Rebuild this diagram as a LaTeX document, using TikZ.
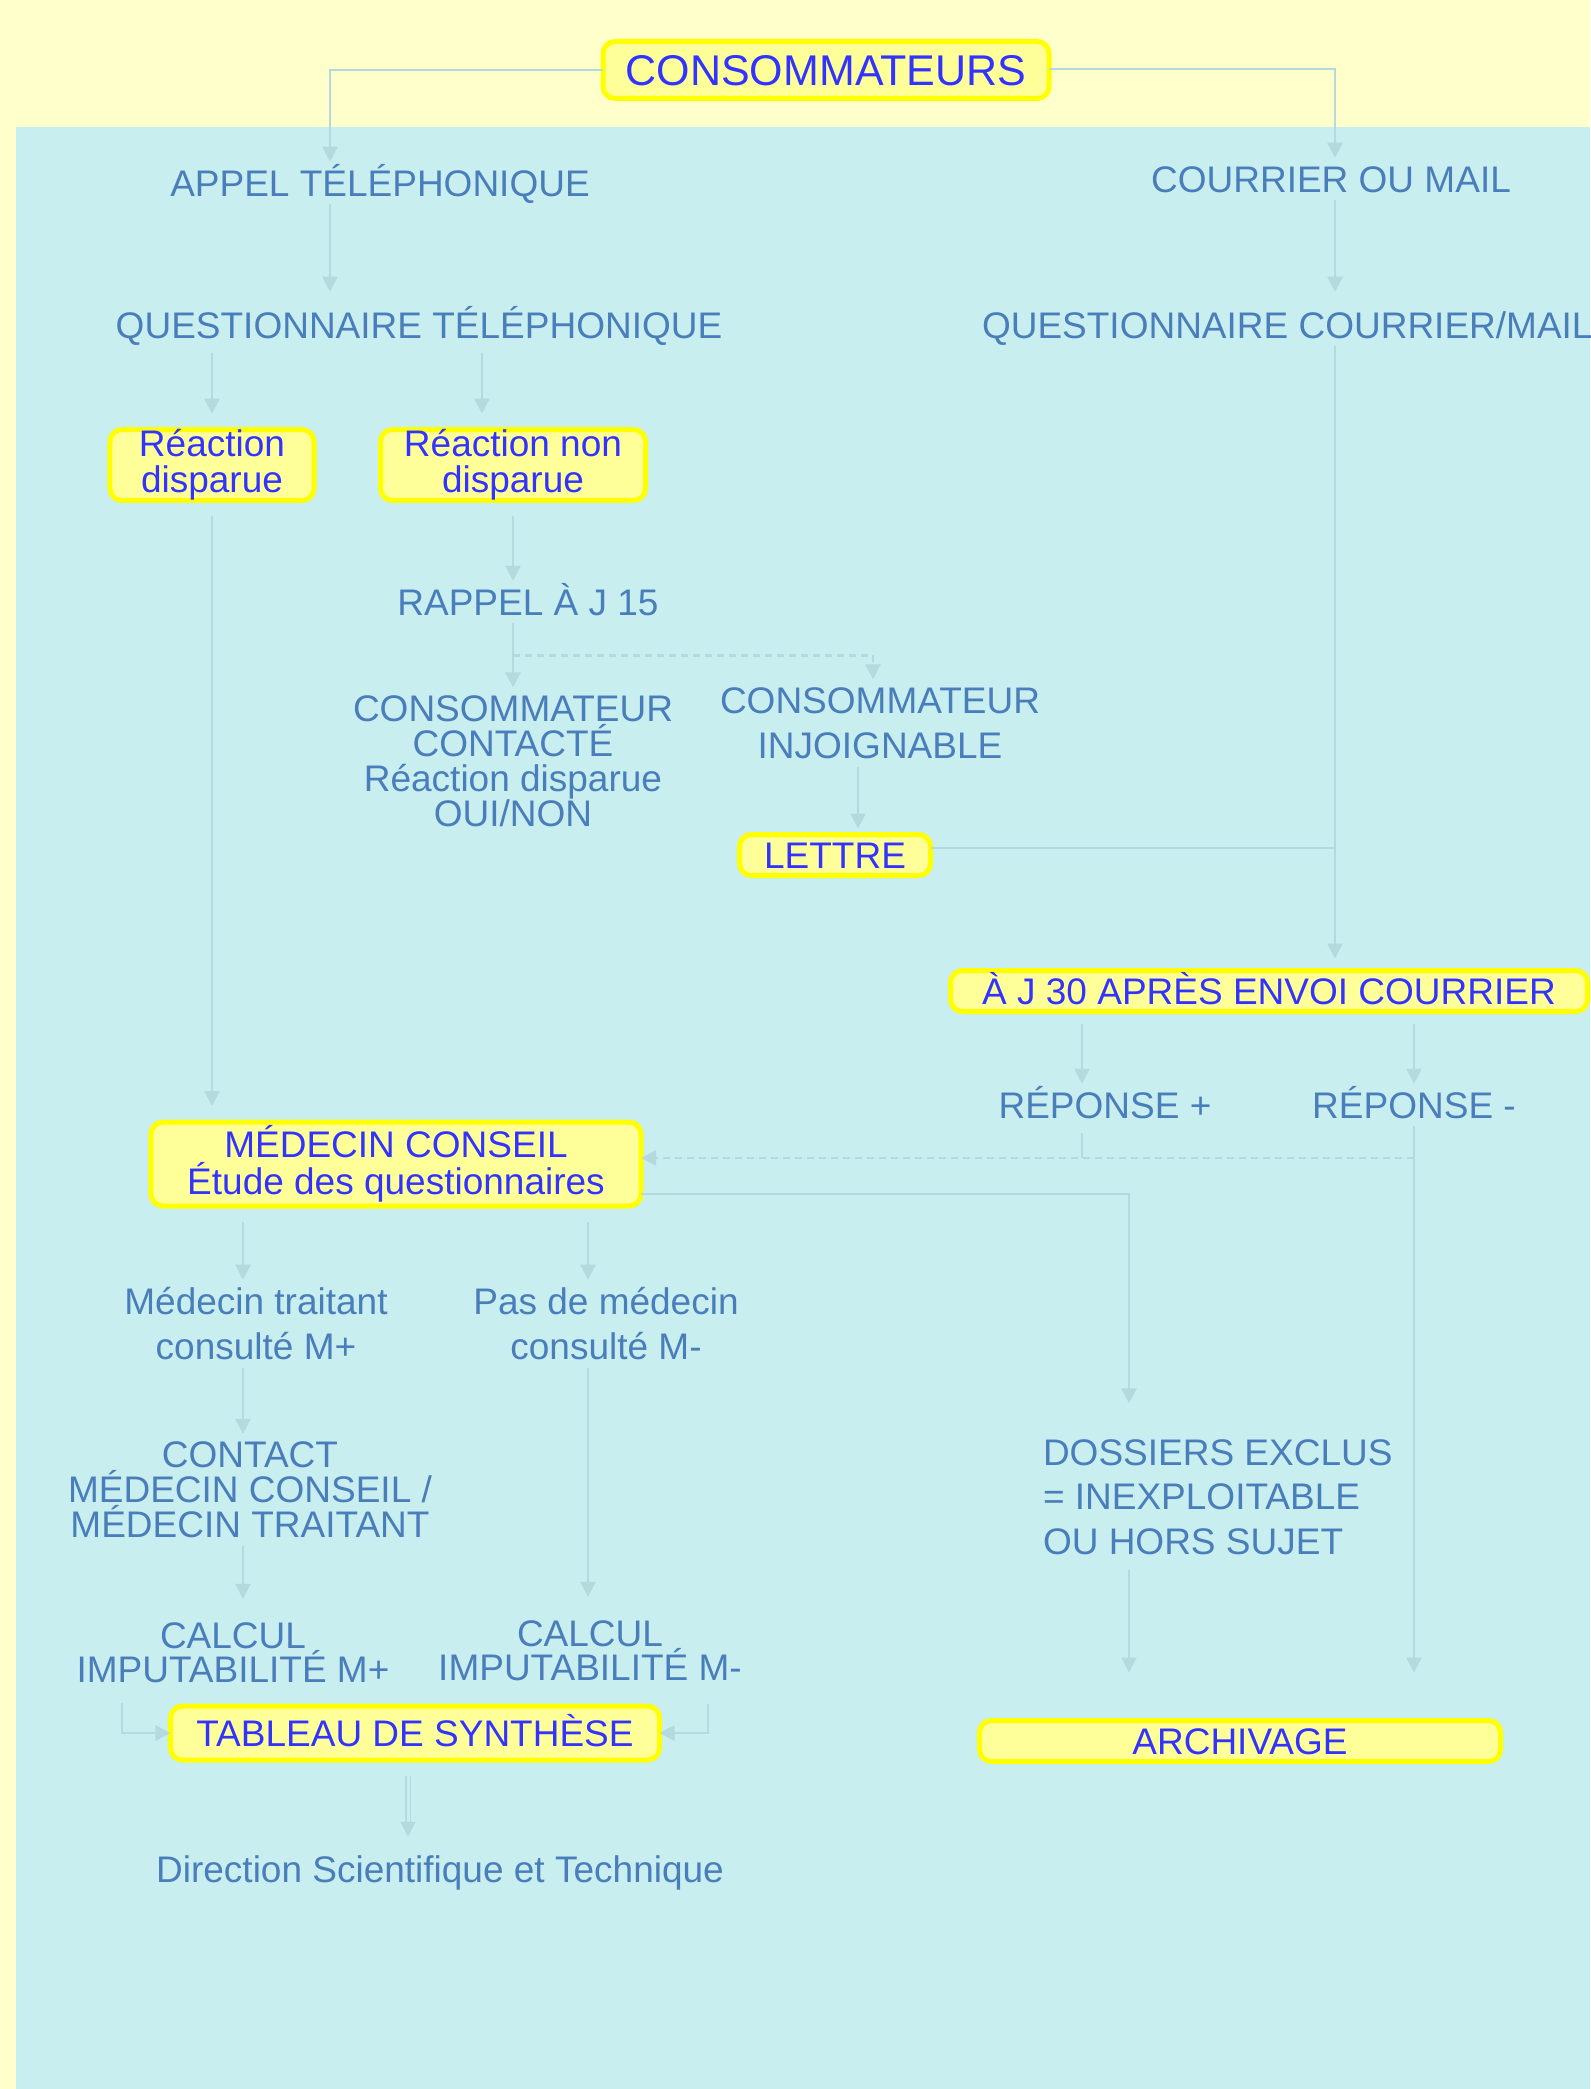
\documentclass[tikz,border=0pt]{standalone}
\usepackage{fontspec}
\setmainfont{Liberation Sans}
\usetikzlibrary{arrows.meta,calc}
\definecolor{paper}{HTML}{FFFFCC}
\definecolor{lagoon}{HTML}{C8EEF0}
\definecolor{wire}{HTML}{B4DADD}
\definecolor{inkblue}{HTML}{4A7EBB}
\definecolor{boxink}{HTML}{3333FF}
\definecolor{boxfill}{HTML}{FFFF99}
\definecolor{boxrim}{HTML}{FFFF00}
\newcommand{\txtsize}[1]{\fontsize{18.5bp}{#1}\selectfont\lineskiplimit=-50bp\relax}
\tikzset{
  lbl/.style={text=inkblue, font=\txtsize{22bp}, align=center, inner sep=0pt, outer sep=4bp},
  oneline/.style={lbl, text height=13.25bp, text depth=0pt},
  yelbox/.style={draw=boxrim, fill=boxfill, line width=2.5bp, rounded corners=6bp, text=boxink, font=\txtsize{18bp}, align=center, inner sep=0pt, outer xsep=0pt, outer ysep=8bp},
  yelbox1/.style={yelbox, text height=13.25bp, text depth=0pt},
  conn/.style={draw=wire, line width=1.2bp, -{Triangle[width=7.5bp,length=7.5bp]}},
  link/.style={draw=wire, line width=1.2bp},
  dotline/.style={dash pattern=on 3.5bp off 2.5bp}
}

\begin{document}
\begin{tikzpicture}[x=0.5bp,y=-0.5bp]
\useasboundingbox[fill=paper] (0,0) rectangle (1590,2089);
\fill[lagoon] (16,127) rectangle (1590,2089);

\node[yelbox, minimum width=223bp, minimum height=28.5bp, font=\fontsize{21.5bp}{21.5bp}\selectfont, text height=15.4bp, text depth=0pt] (cons) at (826,70) {CONSOMMATEURS};

\node[oneline] (appel) at (380,183) {APPEL TÉLÉPHONIQUE};
\node[oneline] (courrier) at (1331,179) {COURRIER OU MAIL};
\node[oneline] (qtel) at (419,325) {QUESTIONNAIRE TÉLÉPHONIQUE};
\node[oneline, anchor=west] (qcour) at (974,325) {QUESTIONNAIRE COURRIER/MAIL};

\node[yelbox, minimum width=102bp, minimum height=34.5bp] (rdisp) at (212,465) {Réaction\\disparue};
\node[yelbox, minimum width=132.5bp, minimum height=34.5bp] (rnon) at (513,465) {Réaction non\\disparue};
\node[oneline] (rappel) at (528,602) {RAPPEL À J 15};
\node[lbl, font=\txtsize{17.5bp}] (contact) at (513,761) {CONSOMMATEUR\\CONTACTÉ\\Réaction disparue\\OUI/NON};
\node[lbl, font=\txtsize{22.5bp}] (injoign) at (880,723) {CONSOMMATEUR\\INJOIGNABLE};
\node[yelbox1, minimum width=95.5bp, minimum height=20.5bp, outer ysep=3bp] (lettre) at (835,855) {LETTRE};

\node[yelbox1, minimum width=318.5bp, minimum height=20.5bp, outer ysep=6bp] (j30) at (1269,991) {À J 30 APRÈS ENVOI COURRIER};
\node[oneline] (repplus) at (1105,1105) {RÉPONSE +};
\node[oneline] (repmoins) at (1414,1105) {RÉPONSE -};

\node[yelbox, minimum width=245bp, minimum height=42bp, font=\txtsize{18.5bp}] (medcons) at (396,1164) {MÉDECIN CONSEIL\\Étude des questionnaires};
\node[lbl, font=\txtsize{22.5bp}] (mtrait) at (256,1324) {Médecin traitant\\consulté M+};
\node[lbl, font=\txtsize{22.5bp}] (pasmed) at (606,1324) {Pas de médecin\\consulté M-};
\node[lbl, font=\txtsize{17.5bp}] (contactmed) at (250,1490) {CONTACT\\MÉDECIN CONSEIL /\\MÉDECIN TRAITANT};
\node[lbl, font=\txtsize{17bp}] (calcplus) at (233,1653) {CALCUL\\IMPUTABILITÉ M+};
\node[lbl, font=\txtsize{17bp}] (calcmoins) at (590,1651) {CALCUL\\IMPUTABILITÉ M-};
\node[yelbox1, minimum width=244.5bp, minimum height=27bp] (tableau) at (415,1733) {TABLEAU DE SYNTHÈSE};
\node[oneline] (dscient) at (440,1869) {Direction Scientifique et Technique};

\node[lbl, font=\txtsize{22.25bp}, align=left, anchor=west] (dossiers) at (1035,1497) {DOSSIERS EXCLUS\\= INEXPLOITABLE\\OU HORS SUJET};
\node[yelbox1, minimum width=260.5bp, minimum height=20.5bp] (archiv) at (1240,1741) {ARCHIVAGE};

\draw[conn] (cons.west) -| ([xshift=-25bp]appel.north);
\draw[conn] ([yshift=0.5bp]cons.east) -| ([xshift=2bp]courrier.north);
\draw[conn, shorten >=6bp] ([xshift=-25bp]appel.south) -- ([xshift=-25bp]appel.south |- qtel.north);
\draw[conn, shorten >=6bp] ([xshift=2bp]courrier.south) -- ([xshift=2bp]courrier.south |- qcour.north);
\draw[conn, shorten <=3.5bp] (qtel.south -| rdisp.north) -- (rdisp.north);
\draw[conn, shorten <=3.5bp] ([xshift=-15.5bp]qtel.south -| rnon.north) -- ([xshift=-15.5bp]rnon.north);

\draw[conn] (rdisp.south) -- (rdisp.south |- medcons.north);
\draw[conn] (rnon.south) -- (rnon.south |- rappel.north);
\draw[conn] (rappel.south -| contact.north) -- (contact.north);
\draw[conn, dotline] ($(rappel.south -| contact.north)!0.5!(contact.north)$) -| ([xshift=-3.5bp]injoign.north);
\draw[conn] ([xshift=-11bp]injoign.south) -- ([xshift=-11bp]injoign.south |- lettre.north);
\draw[link] ([yshift=3.5bp]lettre.east) -- ([xshift=2bp, yshift=3.5bp]lettre.east -| courrier.south);
\draw[conn] ([xshift=2bp]courrier.south |- qcour.south) -- ([xshift=2bp]courrier.south |- j30.north);

\draw[conn] ([xshift=-11.5bp]repplus.north |- j30.south) -- ([xshift=-11.5bp]repplus.north);
\draw[conn] (repmoins.north |- j30.south) -- (repmoins.north);
\coordinate (mcin) at ([yshift=3bp]medcons.east);
\draw[link, shorten <=3.5bp] ([xshift=-11.5bp]repplus.south) -- ([xshift=-11.5bp]repplus.south |- mcin);
\draw[conn, dotline] (repmoins.south |- mcin) -- (mcin);
\draw[conn, shorten >=16bp] (repmoins.south) -- (repmoins.south |- archiv.north);
\draw[conn, shorten >=14bp] ([yshift=-15bp]medcons.east) -| ([xshift=47bp]dossiers.north west);
\draw[conn, shorten <=3.5bp, shorten >=16bp] ([xshift=47bp]dossiers.south west) -- ([xshift=47bp]dossiers.south west |- archiv.north);

\draw[conn] ([xshift=-6.5bp]mtrait.north |- medcons.south) -- ([xshift=-6.5bp]mtrait.north);
\draw[conn] ([xshift=-9bp]pasmed.north |- medcons.south) -- ([xshift=-9bp]pasmed.north);
\draw[conn] ([xshift=-6.5bp]mtrait.south) -- ([xshift=-6.5bp]mtrait.south |- contactmed.north);
\draw[conn, shorten >=8bp] ([xshift=-6.5bp]mtrait.south |- contactmed.south) -- ([xshift=-6.5bp]mtrait.south |- calcplus.north);
\draw[conn, shorten >=8bp] ([xshift=-9bp]pasmed.south) -- ([xshift=-9bp]pasmed.south |- calcmoins.north);
\draw[conn, shorten <=6bp] ([xshift=-55.5bp]calcplus.south) |- (tableau.west);
\draw[conn, shorten <=7.5bp] ([xshift=59bp]calcmoins.south) |- (tableau.east);
\draw[conn, double=lagoon, double distance=1.5bp, line width=0.7bp, shorten >=5.5bp] ([xshift=-3.5bp]tableau.south) -- ([xshift=-3.5bp]tableau.south |- dscient.north);
\end{tikzpicture}
\end{document}
